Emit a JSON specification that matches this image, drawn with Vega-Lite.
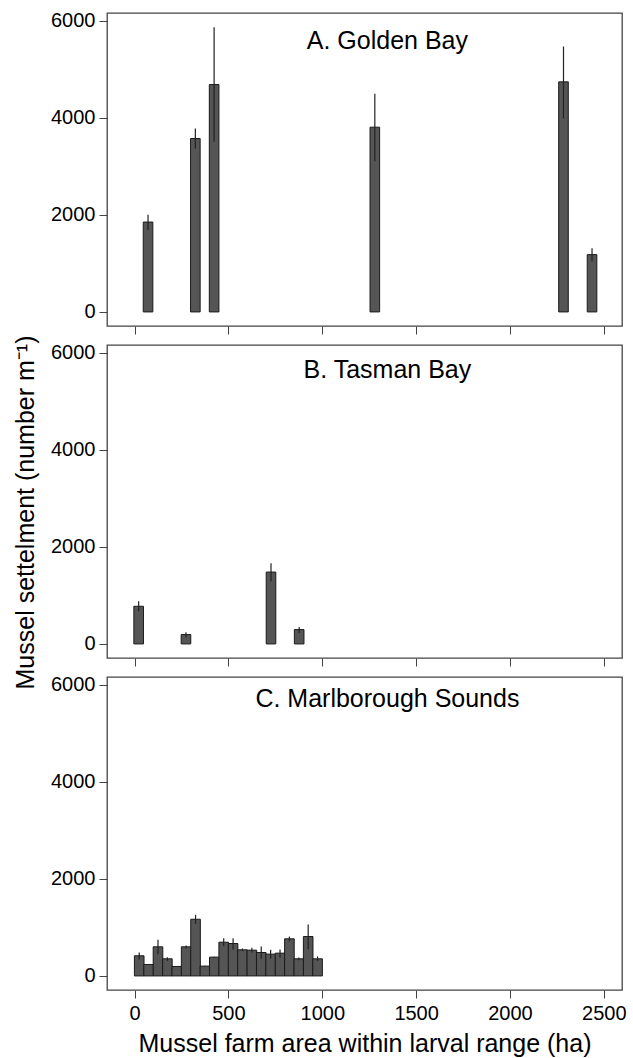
{
  "$schema": "https://vega.github.io/schema/vega-lite/v6.json",
  "padding": {"left": 12, "top": 10, "right": 1, "bottom": 0},
  "spacing": 19,
  "bounds": "flush",
  "config": {
    "font": "Liberation Sans",
    "view": {"stroke": "#444444", "strokeWidth": 1.3},
    "axis": {"grid": false, "domain": false, "tickColor": "#444444", "tickSize": 8, "tickWidth": 1, "labelFontSize": 20, "labelColor": "#000000", "labelFont": "Liberation Sans", "titleFontSize": 25, "titleFontWeight": "normal", "titleColor": "#000000", "titleFont": "Liberation Sans", "format": "d"}
  },
  "vconcat": [
    {
      "width": 515, "height": 313,
      "data": {"values": [
        {"area": 72, "settlement": 1852, "lo": 1690, "hi": 2005},
        {"area": 324, "settlement": 3574, "lo": 3370, "hi": 3780},
        {"area": 424, "settlement": 4685, "lo": 3505, "hi": 5865},
        {"area": 1280, "settlement": 3807, "lo": 3105, "hi": 4495},
        {"area": 2285, "settlement": 4741, "lo": 3985, "hi": 5470},
        {"area": 2437, "settlement": 1181, "lo": 1037, "hi": 1311}
      ]},
      "layer": [
        {"mark": {"type": "bar", "orient": "vertical", "width": 9.6, "fill": "#555555", "stroke": "#1a1a1a", "strokeWidth": 1},
         "encoding": {
           "x": {"field": "area", "type": "quantitative", "scale": {"domain": [-120, 2570], "nice": false, "zero": false}, "axis": {"values": [0, 500, 1000, 1500, 2000, 2500], "labels": false, "title": null}},
           "y": {"field": "settlement", "type": "quantitative", "scale": {"domain": [-290, 6160], "nice": false, "zero": false}, "axis": {"values": [0, 2000, 4000, 6000], "labelPadding": 4, "title": null}}
         }},
        {"mark": {"type": "rule", "color": "#222222", "strokeWidth": 1.2},
         "encoding": {"x": {"field": "area", "type": "quantitative"}, "y": {"field": "lo", "type": "quantitative"}, "y2": {"field": "hi"}}},
        {"data": {"values": [{"label": "A. Golden Bay"}]},
         "mark": {"type": "text", "fontSize": 25, "align": "center", "baseline": "alphabetic", "color": "#000000"},
         "encoding": {"x": {"datum": 1347}, "y": {"datum": 5412}, "text": {"field": "label"}}}
      ]
    },
    {
      "width": 515, "height": 313,
      "data": {"values": [
        {"area": 22, "settlement": 776, "lo": 673, "hi": 879},
        {"area": 274, "settlement": 193, "lo": 138, "hi": 241},
        {"area": 727, "settlement": 1481, "lo": 1290, "hi": 1660},
        {"area": 877, "settlement": 296, "lo": 226, "hi": 350}
      ]},
      "layer": [
        {"mark": {"type": "bar", "orient": "vertical", "width": 9.6, "fill": "#555555", "stroke": "#1a1a1a", "strokeWidth": 1},
         "encoding": {
           "x": {"field": "area", "type": "quantitative", "scale": {"domain": [-120, 2570], "nice": false, "zero": false}, "axis": {"values": [0, 500, 1000, 1500, 2000, 2500], "labels": false, "title": null}},
           "y": {"field": "settlement", "type": "quantitative", "scale": {"domain": [-290, 6160], "nice": false, "zero": false}, "axis": {"values": [0, 2000, 4000, 6000], "labelPadding": 4, "title": "Mussel settelment (number m⁻¹)", "titlePadding": 12, "titleY": 167}}
         }},
        {"mark": {"type": "rule", "color": "#222222", "strokeWidth": 1.2},
         "encoding": {"x": {"field": "area", "type": "quantitative"}, "y": {"field": "lo", "type": "quantitative"}, "y2": {"field": "hi"}}},
        {"data": {"values": [{"label": "B. Tasman Bay"}]},
         "mark": {"type": "text", "fontSize": 25, "align": "center", "baseline": "alphabetic", "color": "#000000"},
         "encoding": {"x": {"datum": 1347}, "y": {"datum": 5473}, "text": {"field": "label"}}}
      ]
    },
    {
      "width": 515, "height": 313,
      "data": {"values": [
        {"area": 25, "settlement": 415, "lo": 339, "hi": 483},
        {"area": 75, "settlement": 236, "lo": 226, "hi": 246},
        {"area": 125, "settlement": 600, "lo": 448, "hi": 744},
        {"area": 175, "settlement": 353, "lo": 312, "hi": 387},
        {"area": 225, "settlement": 195, "lo": 185, "hi": 205},
        {"area": 275, "settlement": 600, "lo": 565, "hi": 627},
        {"area": 325, "settlement": 1168, "lo": 1073, "hi": 1258},
        {"area": 375, "settlement": 202, "lo": 192, "hi": 212},
        {"area": 425, "settlement": 387, "lo": 377, "hi": 397},
        {"area": 475, "settlement": 695, "lo": 613, "hi": 777},
        {"area": 525, "settlement": 668, "lo": 545, "hi": 777},
        {"area": 575, "settlement": 538, "lo": 510, "hi": 565},
        {"area": 625, "settlement": 531, "lo": 483, "hi": 580},
        {"area": 675, "settlement": 483, "lo": 353, "hi": 606},
        {"area": 725, "settlement": 449, "lo": 353, "hi": 538},
        {"area": 775, "settlement": 469, "lo": 374, "hi": 545},
        {"area": 825, "settlement": 765, "lo": 716, "hi": 812},
        {"area": 875, "settlement": 353, "lo": 325, "hi": 380},
        {"area": 925, "settlement": 812, "lo": 551, "hi": 1059},
        {"area": 975, "settlement": 353, "lo": 305, "hi": 401}
      ]},
      "layer": [
        {"mark": {"type": "bar", "orient": "vertical", "width": 9.6, "fill": "#555555", "stroke": "#1a1a1a", "strokeWidth": 1},
         "encoding": {
           "x": {"field": "area", "type": "quantitative", "scale": {"domain": [-120, 2570], "nice": false, "zero": false}, "axis": {"values": [0, 500, 1000, 1500, 2000, 2500], "labelPadding": 5, "title": "Mussel farm area within larval range (ha)", "titlePadding": 8}},
           "y": {"field": "settlement", "type": "quantitative", "scale": {"domain": [-290, 6160], "nice": false, "zero": false}, "axis": {"values": [0, 2000, 4000, 6000], "labelPadding": 4, "title": null}}
         }},
        {"mark": {"type": "rule", "color": "#222222", "strokeWidth": 1.2},
         "encoding": {"x": {"field": "area", "type": "quantitative"}, "y": {"field": "lo", "type": "quantitative"}, "y2": {"field": "hi"}}},
        {"data": {"values": [{"label": "C. Marlborough Sounds"}]},
         "mark": {"type": "text", "fontSize": 25, "align": "center", "baseline": "alphabetic", "color": "#000000"},
         "encoding": {"x": {"datum": 1347}, "y": {"datum": 5550}, "text": {"field": "label"}}}
      ]
    }
  ]
}
